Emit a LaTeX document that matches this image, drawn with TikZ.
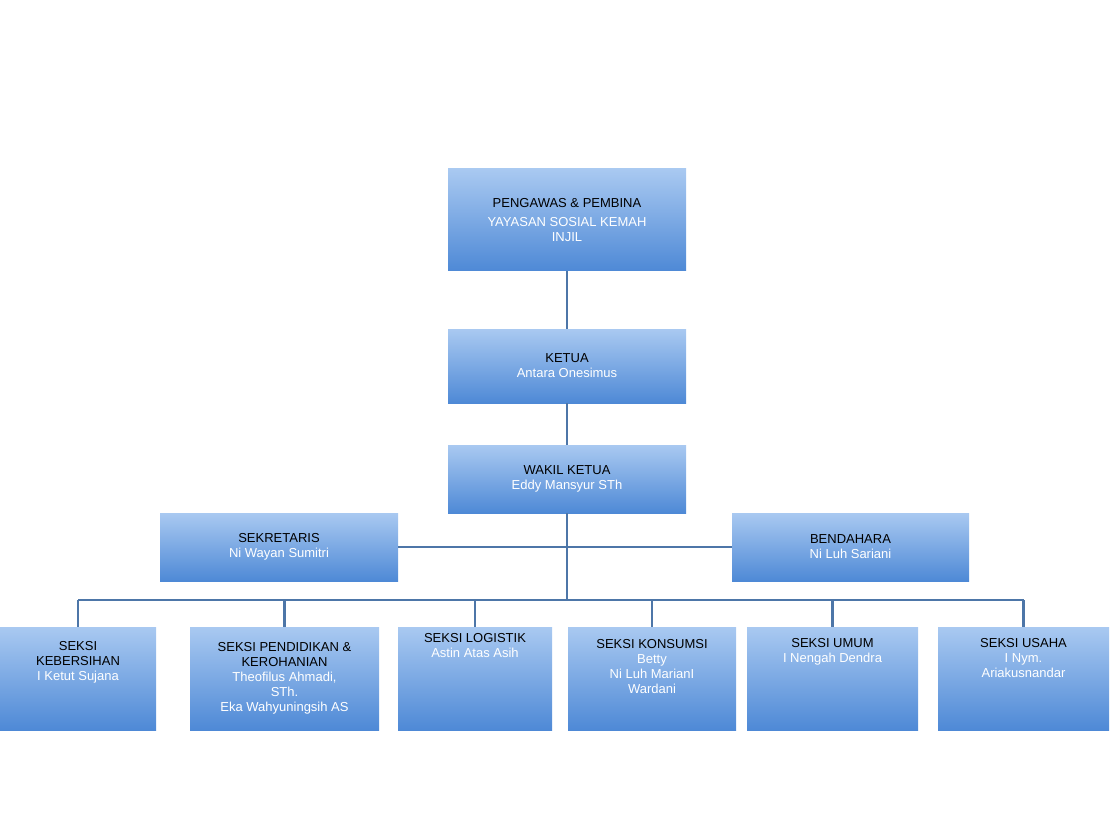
\documentclass[tikz,border=0pt]{standalone}
\usepackage{fontspec}
\setmainfont{Liberation Sans}
\begin{document}
\begin{tikzpicture}[x=1pt,y=-1pt,
 box/.style={draw=none,top color=boxtop,bottom color=boxbot,inner sep=0pt,align=center,font=\fontsize{13}{15}\selectfont},
 ln/.style={draw=linec,line width=2.2pt}]
\definecolor{boxtop}{HTML}{A9C9F1}
\definecolor{boxbot}{HTML}{4E89D6}
\definecolor{linec}{HTML}{4D76A8}
\useasboundingbox (0,0) rectangle (1117,837);
\newcommand{\bx}[6]{\node[box,minimum width=#4-#2,minimum height=#5-#3] (#1) at ({(#2+#4)/2},{(#3+#5)/2}) {#6};}
\bx{top}{448}{169}{686}{271}{PENGAWAS \& PEMBINA\\[4pt]\textcolor{white}{YAYASAN SOSIAL KEMAH}\\\textcolor{white}{INJIL}}
\bx{ketua}{448}{329}{686}{403}{KETUA\\\textcolor{white}{Antara Onesimus}}
\bx{wakil}{448}{445}{686}{513}{WAKIL KETUA\\\textcolor{white}{Eddy Mansyur STh}}
\bx{sek}{160}{513}{398}{581}{SEKRETARIS\\\textcolor{white}{Ni Wayan Sumitri}}
\bx{ben}{732}{513}{969}{581}{BENDAHARA\\\textcolor{white}{Ni Luh Sariani}}
\bx{b1}{0}{627}{156}{730}{SEKSI\\KEBERSIHAN\\\textcolor{white}{I Ketut Sujana}\\[20pt]}
\bx{b2}{190}{627}{379}{730}{SEKSI PENDIDIKAN \&\\KEROHANIAN\\\textcolor{white}{Theofilus Ahmadi,}\\\textcolor{white}{STh.}\\\textcolor{white}{Eka Wahyuningsih AS}}
\bx{b3}{398}{627}{552}{730}{SEKSI LOGISTIK\\\textcolor{white}{Astin Atas Asih}\\[52pt]}
\bx{b4}{568}{627}{736}{730}{SEKSI KONSUMSI\\\textcolor{white}{Betty}\\\textcolor{white}{Ni Luh MarianI}\\\textcolor{white}{Wardani}\\[10pt]}
\bx{b5}{747}{627}{918}{730}{SEKSI UMUM\\\textcolor{white}{I Nengah Dendra}\\[42pt]}
\bx{b6}{938}{627}{1109}{730}{SEKSI USAHA\\\textcolor{white}{I Nym.}\\\textcolor{white}{Ariakusnandar}\\[26pt]}
\coordinate (j1) at (567,547);
\coordinate (j2) at (567,600);
\draw[ln] (top.south) -- (ketua.north);
\draw[ln] (ketua.south) -- (wakil.north);
\draw[ln] (wakil.south) -- (j2);
\draw[ln] (sek.east |- j1) -- (ben.west |- j1);
\draw[ln] (b1.north |- j2) -- (b6.north |- j2);
\foreach \b in {b1,b2,b3,b4,b5,b6} \draw[ln] (\b.north |- j2) -- (\b.north);
\end{tikzpicture}
\end{document}
